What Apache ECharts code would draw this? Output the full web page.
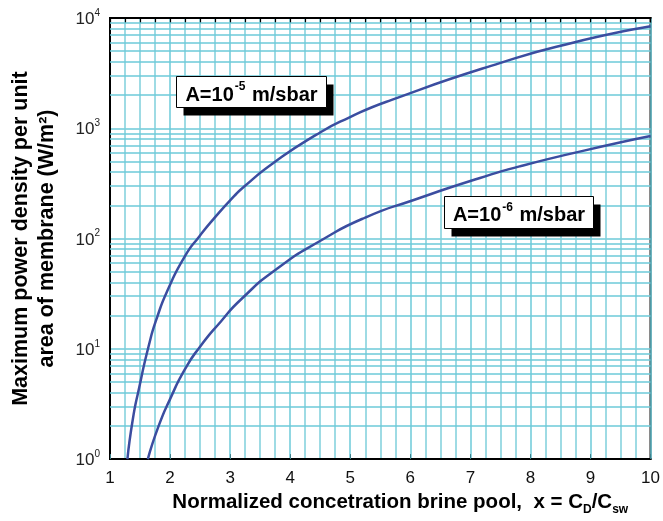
<!DOCTYPE html>
<html><head><meta charset="utf-8">
<script src="https://cdn.jsdelivr.net/npm/echarts@6/dist/echarts.min.js"></script>
<style>html,body{margin:0;padding:0;background:#fff}#c{width:663px;height:521px}</style>
</head><body><div id="c"></div>
<script>
// Data: [x, power density W/m^2]
const seriesA5 = [[1.29,1],[1.38,2.3],[1.48,4.3],[1.644,10.6],[1.78,19],[1.97,35],[2.246,69],[2.49,105],[2.74,154],[3.066,242],[3.23,295],[3.72,484],[4.43,870],[4.98,1250],[5.69,1811],[7.49,3900],[8.69,5940],[10,8400]];
const seriesA6 = [[1.63,1],[1.81,2.0],[2.0,3.5],[2.246,6.5],[2.49,10.3],[2.85,17.8],[3.18,28],[3.775,53],[4.54,98],[5.25,155],[6.07,225],[7.16,354],[7.82,451],[8.91,630],[10,850]];
const xTicks = [1,2,3,4,5,6,7,8,9,10];
const yMinorGrid = [2,3,4,5,6,7,8,9,20,30,40,50,60,70,80,90,200,300,400,500,600,700,800,900,2000,3000,4000,5000,6000,7000,8000,9000];
const labelA5 = ['A=10','-5',' m/sbar'];
const labelA6 = ['A=10','-6',' m/sbar'];

const FONT = "'Liberation Sans', Arial, sans-serif";
const GRID = '#6ccad8';
const chart = echarts.init(document.getElementById('c'), null, {renderer:'canvas'});

function boxGroup(x, y, w, h, parts) {
  return {
    type:'group', left:x, top:y, z:100, zlevel:1,
    children:[
      {type:'rect', z:100, zlevel:1, shape:{x:7, y:8, width:w, height:h}, style:{fill:'#000'}},
      {type:'rect', z:101, zlevel:1, shape:{x:0, y:0, width:w, height:h}, style:{fill:'#fff', stroke:'#000', lineWidth:1}},
      {type:'text', z:102, zlevel:1, x:w/2, y:h/2 + 1, style:{
        text:'{b|'+parts[0]+'}{s|'+parts[1]+'}{b|'+parts[2]+'}',
        align:'center', verticalAlign:'middle',
        rich:{
          b:{fontFamily:FONT, fontWeight:'bold', fontSize:20, lineHeight:24, fill:'#000', verticalAlign:'bottom'},
          s:{fontFamily:FONT, fontWeight:'bold', fontSize:12, lineHeight:24, fill:'#000', verticalAlign:'top', padding:[0,1,9,1]}
        }
      }}
    ]
  };
}

const option = {
  animation:false,
  backgroundColor:'#fff',
  grid:{left:104, right:10, top:18, bottom:61, show:true, borderColor:'#000', borderWidth:2, backgroundColor:'transparent'},
  xAxis:[{
    type:'value', min:1, max:10, interval:1,
    axisLine:{show:true, lineStyle:{color:'#000', width:2}},
    axisTick:{show:true, inside:true, length:5, lineStyle:{color:'#3d7f8a'}},
    minorTick:{show:false, splitNumber:4},
    axisLabel:{color:'#111', fontFamily:FONT, fontSize:17, margin:11,
      formatter:v => xTicks.includes(v) ? String(v) : ''},
    splitLine:{show:true, lineStyle:{color:GRID, width:1.5}},
    minorSplitLine:{show:true, lineStyle:{color:'#7fd0dc', width:1.5}},
    name:'{b|Normalized concetration brine pool,  x = C}{sub|D}{b|/C}{sub|sw}',
    nameLocation:'middle', nameGap:28,
    nameTextStyle:{padding:[0,0,0,40], rich:{
      b:{fontFamily:FONT, fontWeight:'bold', fontSize:20.5, color:'#000', lineHeight:24, verticalAlign:'top'},
      sub:{fontFamily:FONT, fontWeight:'bold', fontSize:12, color:'#000', lineHeight:24, verticalAlign:'bottom', padding:[10,0,0,0]}
    }}
  },{
    type:'value', position:'top', min:1, max:10, interval:0.25,
    axisLine:{show:true, lineStyle:{color:'#000', width:2}},
    axisTick:{show:true, inside:true, length:5, lineStyle:{color:'#000', width:1.2}},
    axisLabel:{show:false}, splitLine:{show:false}
  }],
  yAxis:[{
    type:'log', logBase:10, min:1, max:10000,
    axisLine:{show:true, lineStyle:{color:'#000', width:2}},
    axisTick:{show:false},
    axisLabel:{fontFamily:FONT, margin:10,
      formatter:v => '{b|10}{s|' + Math.round(Math.log10(v)) + '}',
      rich:{
        b:{fontFamily:FONT, fontSize:17, color:'#222', lineHeight:20, verticalAlign:'bottom'},
        s:{fontFamily:FONT, fontSize:10, color:'#222', lineHeight:20, verticalAlign:'top', padding:[0,0,8,0]}
      }},
    splitLine:{show:true, lineStyle:{color:GRID, width:1.5}},
    name:'Maximum power density per unit\narea of membrane (W/m²)',
    nameLocation:'middle', nameGap:50,
    nameTextStyle:{fontFamily:FONT, fontWeight:'bold', fontSize:21.5, color:'#000', lineHeight:26}
  }],
  series:[
    {type:'line', name:'grid', data:[], silent:true,
      markLine:{silent:true, symbol:['none','none'], label:{show:false},
        lineStyle:{color:GRID, width:1.5, type:'solid'},
        data:yMinorGrid.map(v => ({yAxis:v}))}},
    {type:'line', name:'A=1e-5', data:seriesA5, showSymbol:false, smooth:0.6,
      lineStyle:{color:'#3b4da0', width:2.5}, z:10},
    {type:'line', name:'A=1e-6', data:seriesA6, showSymbol:false, smooth:0.6,
      lineStyle:{color:'#3b4da0', width:2.5}, z:10}
  ],
  graphic:[
    boxGroup(176, 76, 150, 31, labelA5),
    boxGroup(444, 196, 149, 32, labelA6)
  ]
};
chart.setOption(option);
</script></body></html>
